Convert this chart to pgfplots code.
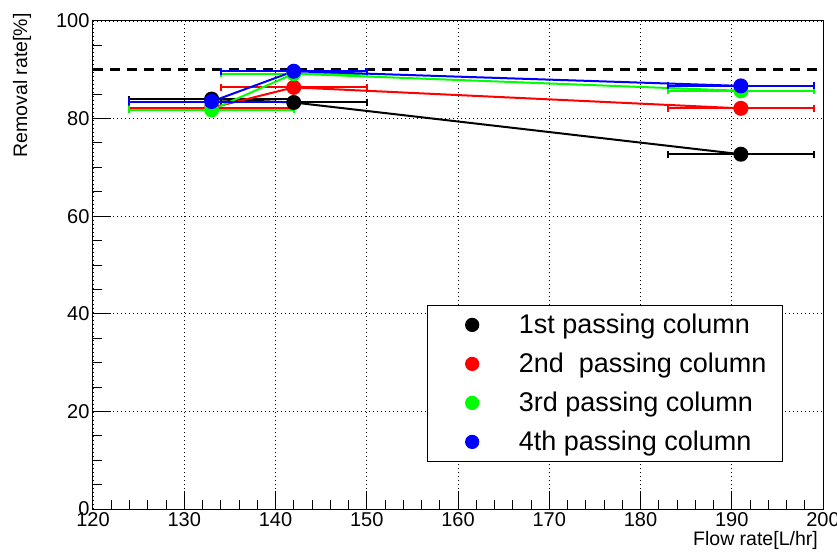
\documentclass[border=0pt]{standalone}
\usepackage{pgfplots}
\pgfplotsset{compat=1.18}
\usepackage{fontspec}
\setmainfont{Liberation Sans}
\pgfplotsset{
  ebar/.style={error bars/.cd, x dir=both, x explicit,
    error bar style={line width=2pt},
    error mark options={rotate=90, mark size=3.5pt, line width=2pt}},
}
\begin{document}
\begin{tikzpicture}
\useasboundingbox (-93pt,-43pt) rectangle (744pt,509pt);
\begin{axis}[
  at={(0,0)}, anchor=south west,
  scale only axis, width=730pt, height=488pt,
  xmin=120, xmax=200, ymin=0, ymax=100,
  xtick={120,130,...,200}, ytick={0,20,...,100},
  minor x tick num=4, minor y tick num=3,
  tick align=inside, tick pos=left,
  major tick length=18pt, minor tick length=9pt,
  tick style={black, line width=1pt},
  grid=major, grid style={black, line width=0.8pt, dash pattern=on 1pt off 3pt},
  axis line style={black, line width=1pt},
  ticklabel style={font=\fontsize{20}{24}\selectfont},
  /pgf/number format/assume math mode=true,
  every axis x label/.style={at={(axis description cs:1,0)}, anchor=north east, yshift=-22pt, xshift=-5pt, inner sep=0pt, font=\fontsize{19.5}{23}\selectfont},
  every axis y label/.style={at={(axis description cs:-0.097,1.016)}, rotate=90, anchor=east, inner sep=0pt, font=\fontsize{19.5}{23}\selectfont},
  xlabel={Flow rate[L/hr]},
  ylabel={Removal rate[\%]},
  legend style={at={(axis description cs:0.4575,0.0963)}, anchor=south west, draw=black, line width=1.2pt,
    inner xsep=16pt, inner ysep=0pt, row sep=0pt, column sep=0pt,
    font=\fontsize{27}{32}\selectfont,
    nodes={inner sep=0pt, minimum height=39pt}},
  legend cell align=left,
  legend image code/.code={\path (-28pt,0pt) (46pt,0pt); \draw plot coordinates {(0pt,0pt)};},
]
\addplot[black, line width=3pt, dash pattern=on 10pt off 7pt, forget plot] coordinates {(120,90) (200,90)};

\addplot[black, line width=2pt, mark=*, mark size=6.5pt, forget plot, ebar]
  table[x error=ex] {
x y ex
133 84.0 9
142 83.3 8
191 72.7 8
};
\addplot[red, line width=2pt, mark=*, mark size=6.5pt, forget plot, ebar]
  table[x error=ex] {
x y ex
133 82.2 9
142 86.4 8
191 82.1 8
};
\addplot[green, line width=2pt, mark=*, mark size=6.5pt, forget plot, ebar]
  table[x error=ex] {
x y ex
133 81.8 9
142 89.2 8
191 85.7 8
};
\addplot[blue, line width=2pt, mark=*, mark size=6.5pt, forget plot, ebar]
  table[x error=ex] {
x y ex
133 83.5 9
142 89.7 8
191 86.7 8
};

\addlegendimage{only marks, mark=*, mark size=6.5pt, black}
\addlegendentry{1st passing column}
\addlegendimage{only marks, mark=*, mark size=6.5pt, red}
\addlegendentry{2nd~ passing column}
\addlegendimage{only marks, mark=*, mark size=6.5pt, green}
\addlegendentry{3rd passing column}
\addlegendimage{only marks, mark=*, mark size=6.5pt, blue}
\addlegendentry{4th passing column}
\end{axis}
\end{tikzpicture}
\end{document}
